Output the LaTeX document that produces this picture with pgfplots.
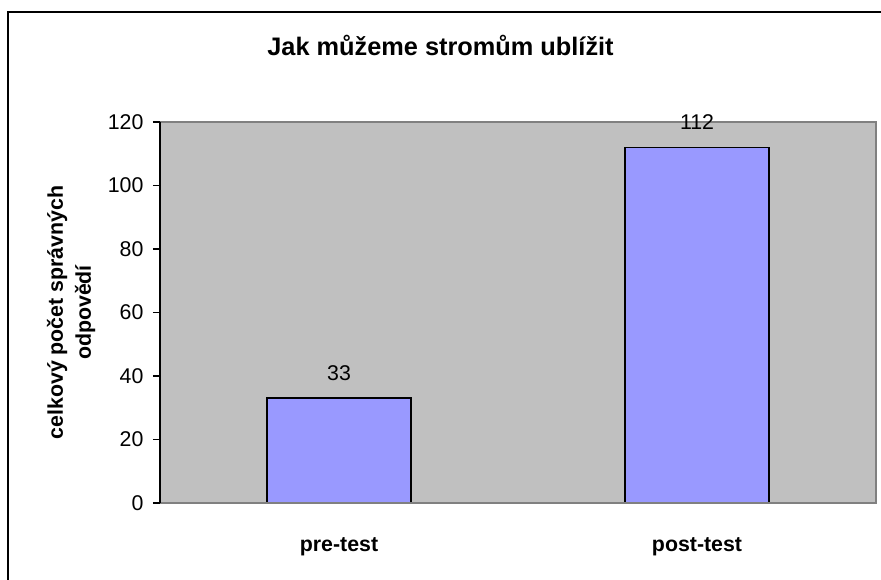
\documentclass[border=0pt]{standalone}
\usepackage{pgfplots}
\pgfplotsset{compat=1.18}
\usepackage{fontspec}
\setmainfont{Liberation Sans}
\definecolor{plotbg}{HTML}{C0C0C0}
\definecolor{barfill}{HTML}{9999FF}
\definecolor{bordergray}{HTML}{808080}
\begin{document}
\begin{tikzpicture}
\clip (0pt,0pt) rectangle (660.75pt,435pt);
\fill[white] (0pt,0pt) rectangle (660.75pt,435pt);
\draw[line width=1.5pt] (6pt,-10pt) -- (6pt,426pt) -- (670pt,426pt);
\node[anchor=base, inner sep=0pt, font=\bfseries\fontsize{19}{22}\selectfont] at (330.4pt,393pt) {Jak můžeme stromům ublížit};
\begin{axis}[
  at={(120pt,57.75pt)}, anchor=south west,
  scale only axis, width=537pt, height=285.75pt,
  xmin=0, xmax=2, ymin=0, ymax=120,
  ybar, bar width=108pt,
  xtick={0.5,1.5}, xticklabels={pre-test,post-test},
  ytick={0,20,...,120},
  axis line style={draw=none},
  axis background/.style={fill=plotbg},
  tick align=outside, tick pos=left,
  major tick length=5.25pt,
  ytick style={black, line width=0.8pt},
  xtick style={draw=none},
  /pgf/number format/assume math mode=true,
  yticklabel style={font=\fontsize{16}{19}\selectfont, anchor=east, inner sep=0pt, xshift=-7pt},
  xticklabel style={font=\bfseries\fontsize{16}{19}\selectfont, anchor=base, inner sep=0pt, yshift=-31pt},
  ylabel={celkový počet správných\\odpovědí},
  ylabel style={font=\bfseries\fontsize{16}{21}\selectfont, align=center, at={(axis description cs:-0.09,0.5)}, anchor=south, inner sep=0pt},
  nodes near coords,
  every node near coord/.append style={font=\fontsize{16}{19}\selectfont, anchor=base, inner sep=0pt, yshift=13.5pt, black},
  clip=false,
]
\addplot[fill=barfill, draw=black, line width=1.2pt] coordinates {(0.5,33) (1.5,112)};
\draw[bordergray, line width=1.5pt] (rel axis cs:0,0) -- (rel axis cs:1,0) -- (rel axis cs:1,1) -- (rel axis cs:0,1);
\draw[black, line width=1.3pt] (rel axis cs:0,0) -- (rel axis cs:0,1);
\end{axis}
\end{tikzpicture}
\end{document}
